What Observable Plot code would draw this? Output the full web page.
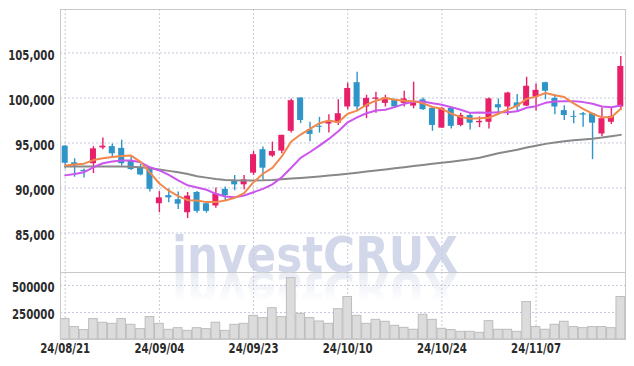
<!DOCTYPE html>
<html><head><meta charset="utf-8">
<script src="https://cdn.jsdelivr.net/npm/d3@7"></script>
<script src="https://cdn.jsdelivr.net/npm/@observablehq/plot@0.6"></script>
<style>
html,body{margin:0;padding:0;background:#fff;}
#chart{position:relative;width:634px;height:366px;overflow:hidden;}
#chart svg{display:block;}
</style></head><body><div id="chart"></div>
<script>
const dates = ["24/08/21","24/08/22","24/08/23","24/08/26","24/08/27","24/08/28","24/08/29","24/08/30","24/09/02","24/09/03",
"24/09/04","24/09/05","24/09/06","24/09/09","24/09/10","24/09/11","24/09/12","24/09/13","24/09/19","24/09/20",
"24/09/23","24/09/24","24/09/25","24/09/26","24/09/27","24/09/30","24/10/02","24/10/04","24/10/07","24/10/08",
"24/10/10","24/10/11","24/10/14","24/10/15","24/10/16","24/10/17","24/10/18","24/10/21","24/10/22","24/10/23",
"24/10/24","24/10/25","24/10/28","24/10/29","24/10/30","24/10/31","24/11/01","24/11/04","24/11/05","24/11/06",
"24/11/07","24/11/08","24/11/11","24/11/12","24/11/13","24/11/14","24/11/15","24/11/18","24/11/19","24/11/20"];

const open  = [94650,92800,91950,92700,94450,94600,94400,93050,92250,92150,
88250,89150,88700,87250,89500,88250,88000,89850,90850,90350,
91650,94250,93550,94100,96300,100000,96450,96850,97100,97200,
99000,101700,99000,99850,99400,99800,99400,99100,99800,98850,
96650,98850,96950,98050,97250,97300,99250,99000,99450,99100,
100100,101700,99950,98600,97950,98250,98250,96000,97300,99000];
const close = [92750,92450,91800,94350,94650,93800,92700,92050,91450,89850,
88900,88900,88200,89100,87400,87400,89350,89150,90350,90900,
93700,92200,94050,95850,99700,97500,95950,96750,97300,98250,
101050,99000,99950,100000,100000,99000,99900,99600,98700,96950,
98850,96850,98050,97200,97400,99900,98900,100550,99000,101300,
100850,100750,99000,98050,97850,98100,97200,97700,97950,103500];
const high  = [94700,93250,92100,94600,95550,94900,95300,93500,92600,92300,
89600,89900,89550,89500,89600,88300,90000,90100,91400,91400,
94050,94550,95100,95850,99900,100000,97300,97850,98150,99800,
101650,102850,100300,100650,100300,99900,100750,101750,100000,99000,
98950,98900,98300,98400,97900,100000,99900,100650,100400,102300,
101550,101750,100400,99150,98550,98400,98300,98900,98900,104600];
const low   = [92100,91200,91100,91600,94250,93500,92450,91950,91350,89550,
87250,88350,87600,86600,87200,87200,87750,88600,89700,89800,
91400,90900,93400,93800,96100,97150,95150,96100,96100,96950,
98700,98600,97700,98300,99000,98850,99000,98800,98600,96300,
96600,96550,96800,96450,96700,96550,98050,98050,98500,99050,
98550,99800,98150,97500,97150,96750,93150,95700,97050,98600];
const volume = [189000,115000,87000,189000,155000,145000,189000,136000,96000,207000,
145000,90000,105000,80000,105000,96000,155000,80000,136000,145000,
219000,198000,290000,207000,568000,238000,198000,167000,145000,281000,
393000,219000,145000,182000,164000,127000,108000,90000,229000,182000,
99000,87000,71000,71000,62000,170000,90000,90000,71000,346000,
115000,90000,136000,164000,115000,105000,115000,115000,105000,393000];
const ma5  = [92500,92600,92700,93100,93300,93450,93550,93600,92900,91700,
90500,89700,89100,88650,88600,88430,88430,88610,88910,89420,
90650,91580,92240,93500,95170,95940,96570,97200,97500,97300,
98250,98600,99250,99700,100000,99800,99700,99650,99400,99000,
98800,98250,97900,97700,97750,97800,98250,98700,99150,99900,
100150,100550,100300,100100,99400,98800,98250,97850,97850,98800];
const ma20 = [91400,91550,91750,92300,92750,92950,93050,93050,92850,92300,
91950,91450,90850,90300,90050,89800,89350,89050,88980,89170,
89530,89900,90400,91200,92250,93350,94000,94700,95450,96300,
97300,97850,98300,98600,98700,98980,99350,99570,99610,99420,
99240,98980,98690,98350,98380,98350,98420,98420,98530,98910,
99090,99460,99610,99650,99650,99540,99350,99060,98980,99170];
const ma60 = [92400,92400,92400,92400,92400,92400,92380,92350,92300,92200,
92050,91900,91750,91550,91300,91150,91000,90900,90850,90830,
90830,90850,90900,90980,91050,91120,91200,91280,91380,91470,
91580,91700,91820,91940,92060,92180,92300,92430,92550,92680,
92800,92920,93050,93180,93350,93600,93850,94050,94250,94500,
94700,94900,95050,95200,95300,95400,95480,95600,95750,95900];

const priceTicks = [85000, 90000, 95000, 100000, 105000];
const volumeTicks = [250000, 500000];
const dateTicks = ["24/08/21","24/09/04","24/09/23","24/10/10","24/10/24","24/11/07"];

const rows = dates.map((d, i) => ({
  date: d, open: open[i], close: close[i], high: high[i], low: low[i],
  volume: volume[i], ma5: ma5[i], ma20: ma20[i], ma60: ma60[i],
  up: close[i] >= open[i]
}));

const UP = "#e8206a", DOWN = "#2f95c9";
const GRID = "#c4c9de";
const baseStyle = {
  fontFamily: '"DejaVu Sans Condensed","DejaVu Sans",sans-serif',
  fontStretch: "condensed", fontWeight: "bold", color: "#2b2b2b", background: "transparent", overflow: "visible"
};

const price = Plot.plot({
  width: 634, height: 272, marginLeft: 60, marginRight: 9, marginTop: 9, marginBottom: 0,
  style: {...baseStyle, fontSize: "14.5px"},
  x: {type: "band", domain: dates, paddingInner: 0.36, paddingOuter: 0.18, round: false, axis: null},
  y: {domain: [80610, 109830], label: null},
  marks: [
    Plot.ruleY(priceTicks, {stroke: GRID, strokeDasharray: "2,2"}),
    Plot.ruleX(dateTicks, {x: d => d, stroke: GRID, strokeDasharray: "2,2"}),
    Plot.frame({stroke: "#c8c8c8"}),
    Plot.axisY({ticks: priceTicks, tickFormat: d3.format(","), tickSize: 0, tickPadding: 6, dy: 2, label: null}),
    Plot.ruleX(rows, {x: "date", y1: "low", y2: "high", stroke: d => d.up ? UP : DOWN, strokeWidth: 1.4}),
    Plot.barY(rows, {x: "date", y1: "open", y2: "close", fill: d => d.up ? UP : DOWN}),
    Plot.line(rows, {x: "date", y: "ma60", stroke: "#888888", strokeWidth: 2}),
    Plot.line(rows, {x: "date", y: "ma20", stroke: "#cc55ee", strokeWidth: 2}),
    Plot.line(rows, {x: "date", y: "ma5", stroke: "#f0894c", strokeWidth: 2})
  ]
});

const vol = Plot.plot({
  width: 634, height: 94, marginLeft: 60, marginRight: 9, marginTop: 0, marginBottom: 27,
  style: {...baseStyle, fontSize: "14.5px"},
  x: {type: "band", domain: dates, paddingInner: 0.08, paddingOuter: 0.04, round: false, label: null},
  y: {domain: [0, 620000], label: null},
  marks: [
    Plot.ruleY(volumeTicks, {stroke: GRID, strokeDasharray: "2,2"}),
    Plot.ruleX(dateTicks, {x: d => d, stroke: GRID, strokeDasharray: "2,2"}),
    Plot.barY(rows, {x: "date", y: "volume", fill: "#dcdcdc", stroke: "#bdbdbd", strokeWidth: 1}),
    Plot.frame({anchor: "left", stroke: "#c8c8c8"}),
    Plot.frame({anchor: "right", stroke: "#c8c8c8"}),
    Plot.frame({anchor: "bottom", stroke: "#c8c8c8"}),
    Plot.axisY({ticks: volumeTicks, tickFormat: d => String(d), tickSize: 0, tickPadding: 6, dy: 2, label: null}),
    Plot.axisX({ticks: dateTicks, tickSize: 0, tickPadding: 3, label: null})
  ]
});

const chart = document.getElementById("chart");
chart.append(price, vol);

// watermark behind everything
function wm(svg, flipped) {
  const s = d3.select(svg);
  const g = s.insert("g", ":first-child");
  if (flipped) {
    const defs = g.append("defs");
    const lg = defs.append("linearGradient").attr("id", "wmfade").attr("x1", 0).attr("y1", 0).attr("x2", 0).attr("y2", 1);
    lg.append("stop").attr("offset", "0.3").attr("stop-color", "#dfe3ef").attr("stop-opacity", 0);
    lg.append("stop").attr("offset", "1").attr("stop-color", "#dfe3ef").attr("stop-opacity", 1);
  }
  g.append("text")
    .attr("x", 172).attr("y", flipped ? -1 : 271.5)
    .attr("text-anchor", "start")
    .attr("transform", flipped ? "scale(1,-1)" : null)
    .attr("font-family", '"DejaVu Sans","Open Sans",sans-serif')
    .attr("font-weight", "bold")
    .attr("font-size", 50)
    .attr("textLength", 286)
    .attr("lengthAdjust", "spacingAndGlyphs")
    .attr("fill", flipped ? "url(#wmfade)" : "#d2d8ea")
    .text("investCRUX");
}
wm(price, false);
wm(vol, true);

// narrow the tick label glyphs to match the condensed reference face
for (const t of chart.querySelectorAll('g[aria-label$="tick label"] text')) {
  const L = t.getComputedTextLength();
  t.setAttribute("textLength", (L * 0.78).toFixed(1));
  t.setAttribute("lengthAdjust", "spacingAndGlyphs");
}
</script></body></html>
